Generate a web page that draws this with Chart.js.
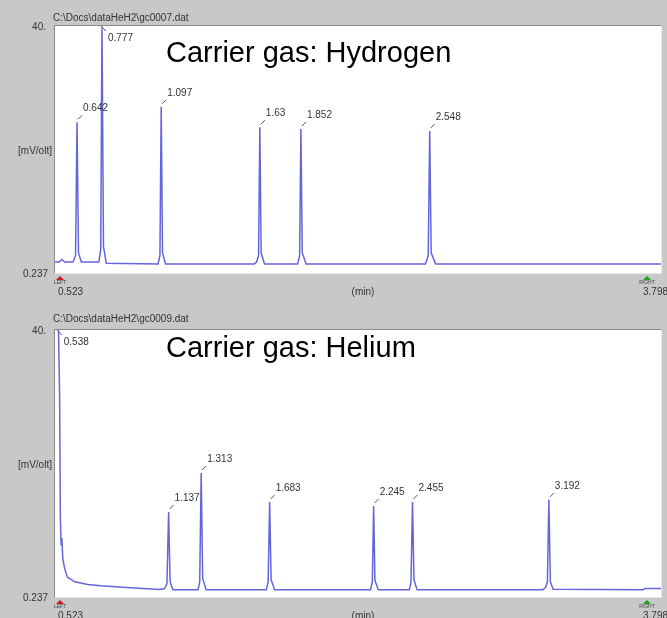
<!DOCTYPE html>
<html>
<head>
<meta charset="utf-8">
<script src="https://cdn.jsdelivr.net/npm/chart.js@4.4.1/dist/chart.umd.min.js"></script>
<style>
  html, body { margin: 0; padding: 0; background: #c8c8c8; }
  body { width: 667px; height: 618px; position: relative; overflow: hidden; }
  canvas { position: absolute; left: 0; }
  #c1 { top: 0; }
  #c2 { top: 300px; }
</style>
</head>
<body>
<canvas id="c1" width="667" height="300"></canvas>
<canvas id="c2" width="667" height="318"></canvas>
<script>
// ---- Data ----
const xRange = [0.523, 3.798];          // min
const yRange = [0.237, 40];             // mV/olt
const xTickLabels = ['0.523', '3.798'];
const yTickLabels = ['40.', '0.237'];
const yAxisLabel = '[mV/olt]';
const xAxisLabel = '(min)';

const h2File = 'C:\\Docs\\dataHeH2\\gc0007.dat';
const heFile = 'C:\\Docs\\dataHeH2\\gc0009.dat';
const h2Title = 'Carrier gas: Hydrogen';
const heTitle = 'Carrier gas: Helium';

// Hydrogen trace (time in min, signal in mV)
const h2Times = [0.523, 0.545, 0.560, 0.575, 0.620, 0.634, 0.642, 0.650, 0.665,
  0.760, 0.770, 0.777, 0.785, 0.800, 1.080, 1.090, 1.097, 1.104, 1.120,
  1.600, 1.612, 1.623, 1.630, 1.637, 1.655, 1.834, 1.845, 1.852, 1.859, 1.880,
  2.525, 2.540, 2.548, 2.556, 2.580, 3.798];
const h2Signal = [2.0, 2.0, 2.4, 2.0, 2.0, 3.0, 24.5, 3.5, 2.0,
  2.0, 4.0, 40.0, 4.5, 1.8, 1.7, 3.0, 27.0, 3.5, 1.7,
  1.7, 2.0, 3.0, 23.7, 3.5, 1.7, 1.7, 3.0, 23.4, 3.5, 1.7,
  1.7, 3.0, 23.1, 3.5, 1.7, 1.7];
const h2PeakTimes = [0.642, 0.777, 1.097, 1.63, 1.852, 2.548];
const h2PeakHeights = [24.5, 40.0, 27.0, 23.7, 23.4, 23.1];
const h2PeakLabels = ['0.642', '0.777', '1.097', '1.63', '1.852', '2.548'];

// Helium trace
const heTimes = [0.534, 0.542, 0.548, 0.552, 0.556, 0.560, 0.565, 0.575, 0.590,
  0.630, 0.700, 0.770, 0.930, 1.090, 1.115, 1.128, 1.137, 1.145, 1.160,
  1.296, 1.305, 1.313, 1.321, 1.340, 1.665, 1.675, 1.683, 1.691, 1.710,
  2.228, 2.238, 2.245, 2.252, 2.270, 2.438, 2.447, 2.455, 2.463, 2.480,
  3.160, 3.175, 3.184, 3.192, 3.200, 3.215, 3.700, 3.710, 3.798];
const heSignal = [40.0, 40.0, 30.0, 12.0, 8.0, 9.0, 6.0, 4.5, 3.2,
  2.5, 2.1, 1.9, 1.6, 1.35, 1.5, 2.2, 12.9, 2.5, 1.3,
  1.3, 2.5, 18.7, 3.0, 1.3, 1.3, 2.5, 14.4, 2.8, 1.3,
  1.3, 2.5, 13.8, 2.7, 1.3, 1.3, 2.5, 14.4, 2.8, 1.3,
  1.3, 1.7, 2.5, 14.7, 2.5, 1.4, 1.3, 1.5, 1.5];
const hePeakTimes = [0.538, 1.137, 1.313, 1.683, 2.245, 2.455, 3.192];
const hePeakHeights = [40.0, 12.9, 18.7, 14.4, 13.8, 14.4, 14.7];
const hePeakLabels = ['0.538', '1.137', '1.313', '1.683', '2.245', '2.455', '3.192'];

// ---- Drawing ----
const LINE_COLOR = '#6464dc';
const TEXT_COLOR = '#333333';
const SMALL_FONT = '10px "Liberation Sans", Arial, sans-serif';

function pts(xs, ys) { return xs.map((x, i) => ({ x: x, y: ys[i] })); }

function decorPlugin(cfg) {
  return {
    id: 'decor',
    beforeDraw(chart) {
      const ctx = chart.ctx, a = chart.chartArea;
      ctx.save();
      ctx.fillStyle = '#c8c8c8';
      ctx.fillRect(0, 0, chart.width, chart.height);
      ctx.fillStyle = '#ffffff';
      ctx.fillRect(a.left, a.top, a.right - a.left, a.bottom - a.top);
      // sunken frame
      ctx.strokeStyle = '#8c8c8c';
      ctx.lineWidth = 1;
      ctx.beginPath();
      ctx.moveTo(a.left - 0.5, a.bottom);
      ctx.lineTo(a.left - 0.5, a.top - 0.5);
      ctx.lineTo(a.right, a.top - 0.5);
      ctx.stroke();
      ctx.strokeStyle = '#e8e8e8';
      ctx.beginPath();
      ctx.moveTo(a.left, a.bottom + 0.5);
      ctx.lineTo(a.right + 0.5, a.bottom + 0.5);
      ctx.lineTo(a.right + 0.5, a.top);
      ctx.stroke();
      ctx.restore();
    },
    afterDraw(chart) {
      const ctx = chart.ctx, a = chart.chartArea;
      const xs = chart.scales.x, ys = chart.scales.y;
      ctx.save();
      ctx.fillStyle = TEXT_COLOR;
      ctx.font = SMALL_FONT;
      ctx.textBaseline = 'middle';
      // file name
      ctx.textAlign = 'left';
      ctx.fillText(cfg.file, a.left - 2, a.top - cfg.fileGap);
      // y tick labels
      ctx.textAlign = 'right';
      ctx.fillText(yTickLabels[0], a.left - 9, ys.getPixelForValue(yRange[1]) + 1);
      ctx.fillText(yTickLabels[1], a.left - 7, ys.getPixelForValue(yRange[0]) + 1);
      ctx.textAlign = 'center';
      ctx.fillText(yAxisLabel, 35, (a.top + a.bottom) / 2 + 2);
      // x labels
      ctx.textAlign = 'left';
      const lx = xs.getPixelForValue(xRange[0]) + 5;
      const rx = xs.getPixelForValue(xRange[1]) - 16;
      ctx.fillText(xTickLabels[0], lx - 2, a.bottom + 19);
      ctx.fillText(xTickLabels[1], rx - 2, a.bottom + 19);
      ctx.textAlign = 'center';
      ctx.fillText(xAxisLabel, (a.left + a.right) / 2 + 5, a.bottom + 19);
      // markers
      function marker(x, color, txt) {
        const y = a.bottom + 3;
        ctx.fillStyle = color;
        ctx.beginPath();
        ctx.moveTo(x, y);
        ctx.lineTo(x - 4, y + 4);
        ctx.lineTo(x + 4, y + 4);
        ctx.closePath();
        ctx.fill();
        ctx.fillStyle = '#444';
        ctx.font = '5px "Liberation Sans", Arial, sans-serif';
        ctx.textAlign = 'center';
        ctx.fillText(txt, x, y + 7);
      }
      marker(lx, '#d01818', 'LEFT');
      marker(rx + 2, '#18a018', 'RIGHT');
      // peak labels
      ctx.font = SMALL_FONT;
      ctx.strokeStyle = '#555';
      ctx.lineWidth = 1;
      cfg.peakTimes.forEach((t, i) => {
        const px = xs.getPixelForValue(t);
        let py = ys.getPixelForValue(cfg.peakHeights[i]);
        ctx.fillStyle = TEXT_COLOR;
        ctx.textAlign = 'left';
        if (py <= a.top + 2) {
          py = a.top;
          ctx.beginPath();
          ctx.moveTo(px + 1, py + 2);
          ctx.lineTo(px + 4, py + 5);
          ctx.stroke();
          ctx.fillText(cfg.peakLabels[i], px + 6, py + 12);
        } else {
          ctx.beginPath();
          ctx.moveTo(px + 1, py - 3);
          ctx.lineTo(px + 5, py - 7);
          ctx.stroke();
          ctx.fillText(cfg.peakLabels[i], px + 6, py - 14);
        }
      });
      // big title
      ctx.fillStyle = '#000';
      ctx.font = '29px "Liberation Sans", Arial, sans-serif';
      ctx.textAlign = 'left';
      ctx.textBaseline = 'alphabetic';
      ctx.fillText(cfg.title, 166, cfg.titleBaseline);
      ctx.restore();
    }
  };
}

function makeChart(id, times, signal, cfg, padding) {
  return new Chart(document.getElementById(id), {
    type: 'scatter',
    data: {
      datasets: [{
        data: pts(times, signal),
        showLine: true,
        borderColor: LINE_COLOR,
        borderWidth: 1.5,
        pointRadius: 0,
        tension: 0,
        fill: false
      }]
    },
    options: {
      responsive: false,
      animation: false,
      events: [],
      layout: { padding: padding },
      plugins: { legend: { display: false }, tooltip: { enabled: false } },
      scales: {
        x: { type: 'linear', min: xRange[0], max: xRange[1], display: false },
        y: { type: 'linear', min: yRange[0], max: yRange[1], display: false }
      }
    },
    plugins: [decorPlugin(cfg)]
  });
}

makeChart('c1', h2Times, h2Signal, {
  file: h2File, title: h2Title, titleBaseline: 62, fileGap: 8,
  peakTimes: h2PeakTimes, peakHeights: h2PeakHeights, peakLabels: h2PeakLabels
}, { left: 55, right: 6, top: 26, bottom: 27 });

makeChart('c2', heTimes, heSignal, {
  file: heFile, title: heTitle, titleBaseline: 57, fileGap: 11,
  peakTimes: hePeakTimes, peakHeights: hePeakHeights, peakLabels: hePeakLabels
}, { left: 55, right: 6, top: 30, bottom: 21 });
</script>
</body>
</html>
